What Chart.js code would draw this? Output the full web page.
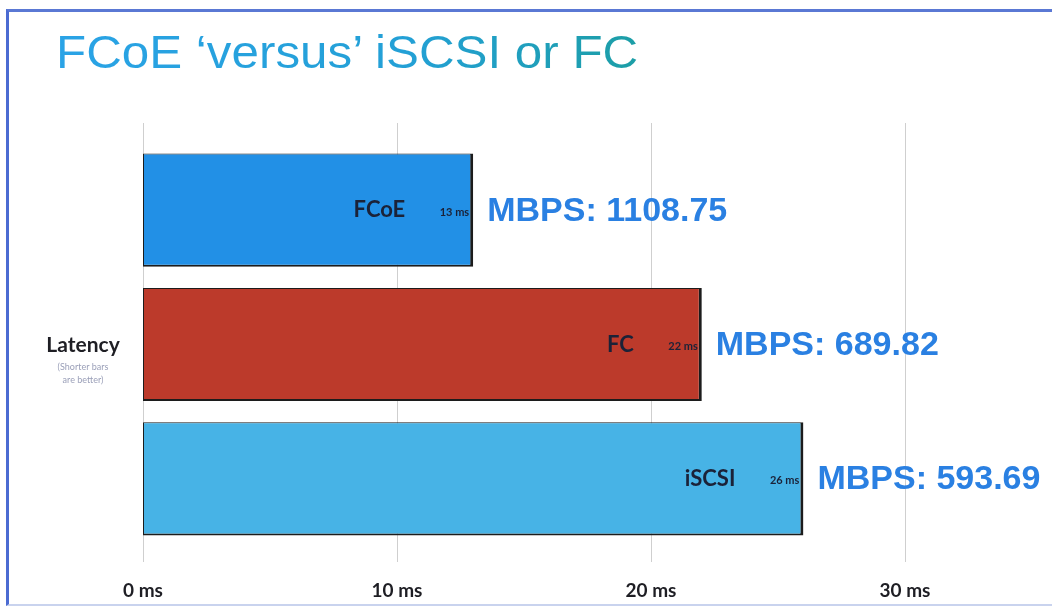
<!DOCTYPE html>
<html>
<head>
<meta charset="utf-8">
<script src="https://cdn.jsdelivr.net/npm/chart.js@4/dist/chart.umd.min.js"></script>
<style>
    html, body { margin: 0; padding: 0; background: #fff; }
    #wrap { position: relative; width: 1052px; height: 606px; overflow: hidden; }
    #frame {
        position: absolute; left: 6px; top: 9px; width: 1060px; height: 592px;
        border-left: 3px solid #4b6bd2; border-top: 3px solid #5a78d4;
        border-bottom: 2px solid #c9d3ee;
    }
    #title {
        position: absolute; left: 56px; top: 24px;
        font-family: 'Liberation Sans', Arial, sans-serif; font-size: 47px;
        transform: scaleX(1.05); transform-origin: left top;
        background: linear-gradient(90deg, #2aa3e6 0%, #23a0d6 60%, #1c9ea6 100%);
        -webkit-background-clip: text; background-clip: text; color: transparent;
        white-space: nowrap;
    }
    canvas { position: absolute; left: 0; top: 0; }
</style>
</head>
<body>
<div id="wrap">
    <div id="frame"></div>
    <div id="title">FCoE ‘versus’ iSCSI or FC</div>
    <canvas id="latencyChart" width="1052" height="606"></canvas>
</div>
<script>
// ─── 데이터 ───
const protocols = ['FCoE', 'FC', 'iSCSI'];
const latencyMs = [13, 22, 26];
const throughput = ['1108.75', '689.82', '593.69'];
const barColors = ['#2290e6', '#bc3a2b', '#47b3e6'];
const xTicks = [0, 10, 20, 30];

// 세로 격자선 (막대 위아래로 조금 더 길게)
const gridPlugin = {
    id: 'longGrid',
    beforeDatasetsDraw(chart) {
        const { ctx, chartArea, scales } = chart;
        ctx.save();
        ctx.strokeStyle = '#cfcfcf';
        ctx.lineWidth = 1;
        xTicks.forEach(v => {
            const x = Math.round(scales.x.getPixelForValue(v)) + 0.5;
            ctx.beginPath();
            ctx.moveTo(x, chartArea.top - 20);
            ctx.lineTo(x, chartArea.bottom + 16);
            ctx.stroke();
        });
        ctx.restore();
    }
};

// 막대 안쪽 이름/지연시간, 바깥쪽 MBPS
const labelPlugin = {
    id: 'barLabels',
    afterDatasetsDraw(chart) {
        const { ctx } = chart;
        const meta = chart.getDatasetMeta(0);
        ctx.save();
        ctx.textBaseline = 'middle';
        meta.data.forEach((bar, i) => {
            const end = bar.x;
            const y = bar.y;
            ctx.fillStyle = '#1b2238';
            ctx.textAlign = 'right';
            ctx.font = 'bold 22px Lato, sans-serif';
            ctx.fillText(protocols[i], end - 68, y);
            ctx.font = 'bold 11px Lato, sans-serif';
            ctx.fillText(latencyMs[i] + ' ms', end - 4, y + 2);

            ctx.textAlign = 'left';
            ctx.fillStyle = '#2a80e2';
            ctx.font = 'bold 34px "Liberation Sans", Arial, sans-serif';
            ctx.fillText('MBPS: ' + throughput[i], end + 14, y + 1);
        });

        // 왼쪽 축 제목
        ctx.textAlign = 'center';
        ctx.fillStyle = '#1e1e24';
        ctx.font = 'bold 21px Lato, sans-serif';
        ctx.fillText('Latency', 83, 345);
        ctx.fillStyle = '#9a9fb8';
        ctx.font = '9px Lato, sans-serif';
        ctx.fillText('(Shorter bars', 83, 367);
        ctx.fillText('are better)', 83, 380);
        ctx.restore();
    }
};

new Chart(document.getElementById('latencyChart').getContext('2d'), {
    type: 'bar',
    data: {
        labels: protocols,
        datasets: [{
            data: latencyMs,
            backgroundColor: barColors,
            borderColor: '#1c1c1c',
            borderWidth: { left: 1, top: 1, right: 3, bottom: 2 },
            borderSkipped: false,
            barPercentage: 0.86,
            categoryPercentage: 0.98
        }]
    },
    options: {
        indexAxis: 'y',
        responsive: false,
        animation: false,
        layout: { padding: { left: 143, right: 20, top: 143, bottom: 0 } },
        scales: {
            x: {
                min: 0,
                max: 35,
                afterBuildTicks: axis => { axis.ticks = xTicks.map(v => ({ value: v })); },
                afterFit: axis => { axis.height = 60; },
                ticks: {
                    callback: v => v + ' ms',
                    color: '#1e1e24',
                    padding: 33,
                    font: { family: 'Lato', size: 19, weight: 'bold' }
                },
                grid: { display: false, drawTicks: false },
                border: { display: false }
            },
            y: { display: false }
        },
        plugins: {
            legend: { display: false },
            tooltip: { enabled: false }
        }
    },
    plugins: [gridPlugin, labelPlugin]
});
</script>
</body>
</html>
